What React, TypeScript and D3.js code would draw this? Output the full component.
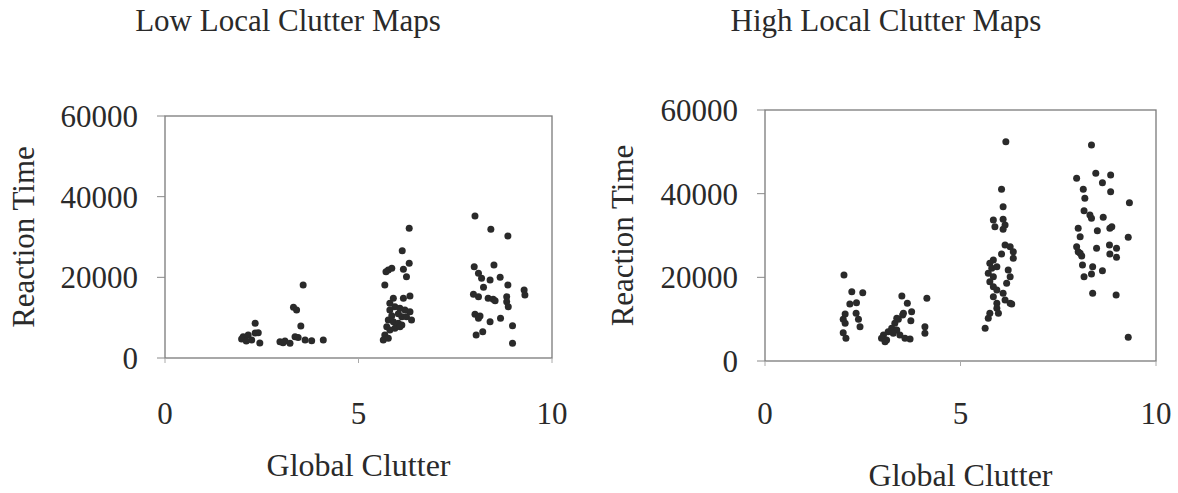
import React from 'react';
import * as d3 from 'd3';

// values: [global clutter, reaction time]
const lowClutterPoints: [number, number][] = [
  [2.02, 5280], [2.15, 5700], [2.24, 4460], [2.33, 6200], [2.45, 3720], [2.33, 8600], [2.41, 6270], [1.98, 4700], [2.10, 4200],
  [2.97, 4040], [3.10, 4210], [3.23, 3640], [3.36, 5280], [3.44, 5100], [3.57, 18100], [3.32, 12570], [3.40, 11900], [3.51, 7930],
  [3.62, 4460], [3.79, 4290], [4.09, 4460], [3.05, 3800],
  [6.31, 32150], [6.13, 26600], [6.31, 23470], [6.16, 21990], [5.77, 21800], [5.86, 22240], [5.71, 21400], [6.24, 20150],
  [5.68, 18100], [5.90, 14800], [6.16, 14800], [6.33, 15370], [5.81, 13560], [5.94, 12720], [6.07, 12320], [6.20, 11900],
  [6.33, 11480], [5.81, 11900], [6.12, 10240], [6.24, 10240], [6.37, 9420], [5.77, 9420], [5.90, 9000], [6.03, 8600],
  [6.12, 8180], [5.73, 7760], [5.81, 6940], [5.94, 7360], [6.07, 7760], [5.68, 5700], [5.64, 4460], [5.77, 4880],
  [6.03, 11000], [5.86, 10500],
  [8.01, 35200], [8.42, 31900], [8.86, 30250], [7.99, 22630], [8.50, 23060], [8.10, 21000], [8.18, 19760], [8.40, 19340],
  [8.66, 20000], [8.86, 18100], [8.23, 17530], [9.28, 16860], [9.30, 15620], [7.97, 15790], [8.10, 15200], [8.35, 14800],
  [8.48, 14550], [8.53, 14200], [8.83, 15200], [8.83, 13960], [8.87, 12720], [8.01, 10830], [8.14, 10410], [8.10, 9840],
  [8.40, 9000], [8.67, 9840], [8.98, 8010], [8.04, 5700], [8.21, 6520], [8.98, 3640],
];

const highClutterPoints: [number, number][] = [
  [2.02, 20560], [2.22, 16560], [2.50, 16320], [2.34, 13930], [2.17, 13620], [2.05, 11230], [2.33, 11400], [2.00, 9960],
  [2.39, 9960], [2.05, 9010], [2.43, 8200], [2.00, 6760], [2.07, 5420],
  [3.50, 15540], [3.64, 13790], [3.75, 11790], [3.52, 10990], [3.41, 9960], [3.73, 9630], [3.32, 9010], [3.24, 7810],
  [3.15, 7000], [3.03, 6210], [2.98, 5420], [3.11, 5020], [3.45, 6210], [3.58, 5420], [3.71, 5260], [3.37, 7410],
  [4.14, 14980], [4.09, 8200], [4.09, 6620], [3.07, 4610], [3.28, 6620], [3.54, 11400], [3.37, 10200],
  [6.16, 52420], [6.05, 41040], [6.09, 36880], [5.84, 33700], [5.88, 32100], [6.09, 33870], [6.14, 32500], [6.09, 31480],
  [6.14, 27720], [6.27, 27320], [6.35, 26120], [6.35, 24550], [6.05, 25570], [5.84, 24140], [5.75, 23350], [5.80, 22150],
  [5.93, 22540], [5.71, 20960], [5.84, 20150], [5.75, 18950], [6.22, 21750], [6.27, 20150], [6.18, 18570], [5.84, 17760],
  [5.93, 16970], [6.09, 16180], [6.14, 14580], [5.84, 15370], [5.93, 13790], [6.27, 13790], [5.93, 12600], [5.97, 11400],
  [5.75, 11400], [5.71, 10200], [5.63, 7810], [6.31, 13620],
  [8.35, 51620], [7.97, 43670], [8.46, 44860], [8.84, 44450], [8.63, 42610], [8.84, 40460], [8.14, 41040], [8.18, 38890],
  [9.32, 37830], [8.16, 35920], [8.31, 34890], [8.35, 34100], [8.65, 34340], [8.82, 31710], [8.87, 32100], [8.01, 31710],
  [8.06, 29710], [8.50, 31150], [9.29, 29560], [7.97, 27320], [8.01, 26120], [8.10, 25090], [8.06, 25740], [8.48, 26930],
  [8.81, 27720], [8.99, 26930], [8.82, 25570], [8.99, 24780], [8.12, 22940], [8.38, 22540], [8.63, 21580], [8.16, 20150],
  [8.35, 20790], [8.38, 16180], [8.98, 15770], [9.29, 5660],
];

const xTicks = [0, 5, 10];
const yTicks = [0, 20000, 40000, 60000];

const FONT = '"Liberation Serif", "Times New Roman", serif';
const INK = '#2a2a2a';

type PanelProps = {
  title: string;
  titleX: number;
  points: [number, number][];
  left: number; right: number; top: number; bottom: number;
  yLabelX: number;
  xLabelY: number;
};

const Panel = ({ title, titleX, points, left, right, top, bottom, yLabelX, xLabelY }: PanelProps) => {
  const x = d3.scaleLinear().domain([0, 10]).range([left, right]);
  const y = d3.scaleLinear().domain([0, 60000]).range([bottom, top]);
  const midY = (top + bottom) / 2;

  return (
    <g fontFamily={FONT} fill={INK}>
      <text x={titleX} y={31} fontSize={31} textAnchor="middle">{title}</text>

      <rect x={left} y={top} width={right - left} height={bottom - top}
        fill="none" stroke="#7a7a7a" strokeWidth={1.3} />
      {yTicks.map(t => (
        <g key={'y' + t}>
          <line x1={left - 8} x2={left} y1={y(t)} y2={y(t)} stroke="#8a8a8a" strokeWidth={1} />
          <text x={left - 27} y={y(t)} dy="0.35em" fontSize={31} textAnchor="end">{t}</text>
        </g>
      ))}
      {xTicks.map(t => (
        <g key={'x' + t}>
          <line x1={x(t)} x2={x(t)} y1={bottom} y2={bottom + 5} stroke="#aaa" strokeWidth={1} />
          <text x={x(t)} y={424} fontSize={31} textAnchor="middle">{t}</text>
        </g>
      ))}

      <text transform={`translate(${yLabelX}, ${midY}) rotate(-90)`} fontSize={31} textAnchor="middle">Reaction Time</text>
      <text x={(left + right) / 2} y={xLabelY} fontSize={32} textAnchor="middle">Global Clutter</text>

      {points.map((d, i) => (
        <circle key={i} cx={x(d[0])} cy={y(d[1])} r={3.5} fill={INK} />
      ))}
    </g>
  );
};

export default function App() {
  return (
    <svg width={1178} height={493} style={{ position: 'absolute', left: 0, top: 0, background: '#fff' }}>
      <Panel title="Low Local Clutter Maps" titleX={288} points={lowClutterPoints}
        left={165} right={552} top={116} bottom={358} yLabelX={34} xLabelY={476} />
      <Panel title="High Local Clutter Maps" titleX={886} points={highClutterPoints}
        left={765} right={1156} top={110} bottom={361} yLabelX={633} xLabelY={486} />
    </svg>
  );
}
